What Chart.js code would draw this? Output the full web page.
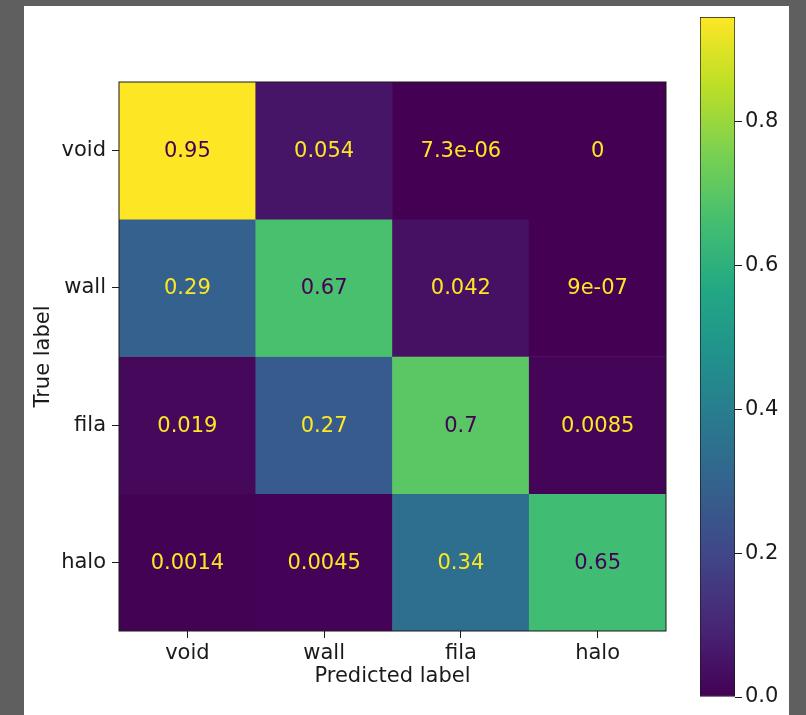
<!DOCTYPE html>
<html>
<head>
<meta charset="utf-8">
<script src="https://cdn.jsdelivr.net/npm/chart.js@4/dist/chart.umd.min.js"></script>
<style>
  html, body { margin: 0; padding: 0; }
  body { width: 806px; height: 715px; background: #5f5f5f; position: relative; overflow: hidden; }
  #panel { position: absolute; left: 24px; top: 6px; width: 765px; height: 709px; background: #fff; }
  canvas { position: absolute; left: 0; top: 0; }
  #barCanvas { pointer-events: none; }
</style>
</head>
<body>
<div id="panel"></div>
<canvas id="cmCanvas" width="806" height="715"></canvas>
<canvas id="barCanvas" width="806" height="715"></canvas>
<script>
// class names on both axes
const predictedLabels = ["void", "wall", "fila", "halo"];
const trueLabels = ["void", "wall", "fila", "halo"];

// normalized confusion matrix, one row per true class
const rowVoid = [0.946, 0.054, 7.3e-6, 0];
const rowWall = [0.29, 0.67, 0.042, 9e-7];
const rowFila = [0.019, 0.27, 0.7, 0.0085];
const rowHalo = [0.0014, 0.0045, 0.34, 0.65];
const matrix = [rowVoid, rowWall, rowFila, rowHalo];

// colorbar tick values
const colorbarTicks = [0.0, 0.2, 0.4, 0.6, 0.8];

const allValues = matrix.flat();
const vmin = Math.min(...allValues);
const vmax = Math.max(...allValues);

// viridis colormap stops
const viridis = [
  "#440154", "#482475", "#414487", "#355f8d", "#2a788e", "#21918c",
  "#22a884", "#44bf70", "#7ad151", "#bddf26", "#fde725",
];

const hexToRgb = (h) => [1, 3, 5].map((i) => parseInt(h.slice(i, i + 2), 16));

const viridisColor = (t) => {
  t = Math.min(1, Math.max(0, t));
  const pos = t * (viridis.length - 1);
  const i = Math.min(viridis.length - 2, Math.floor(pos));
  const f = pos - i;
  const a = hexToRgb(viridis[i]);
  const b = hexToRgb(viridis[i + 1]);
  const c = a.map((v, k) => Math.round(v + (b[k] - v) * f));
  return `rgb(${c[0]}, ${c[1]}, ${c[2]})`;
};

// same as python's "%.2g"
const formatValue = (v) => {
  if (v === 0) return "0";
  const exp = Math.floor(Math.log10(Math.abs(v)));
  if (exp < -4 || exp >= 2) {
    let [mant, e] = v.toExponential(1).split("e");
    mant = mant.replace(/\.?0+$/, "");
    const sign = e[0] === "-" ? "-" : "+";
    const digits = e.replace(/^[+-]/, "").padStart(2, "0");
    return `${mant}e${sign}${digits}`;
  }
  let s = v.toPrecision(2);
  if (s.includes(".")) s = s.replace(/\.?0+$/, "");
  return s;
};

const FONT = "'DejaVu Sans', sans-serif";
const SIZE = 21;
const TEXT = "#1a1a1a";
const threshold = (vmin + vmax) / 2;

// one floating-bar dataset per matrix row, each bar is one cell
const datasets = matrix.map((row, r) => ({
  label: trueLabels[r],
  data: row.map(() => [r - 0.5, r + 0.5]),
  values: row,
  backgroundColor: row.map((v) => viridisColor((v - vmin) / (vmax - vmin))),
  borderWidth: 0,
  barPercentage: 1,
  categoryPercentage: 1,
  grouped: false,
}));

// writes the value in the middle of each cell
const cellText = {
  id: "cellText",
  afterDatasetsDraw(chart) {
    const ctx = chart.ctx;
    ctx.save();
    ctx.font = `${SIZE}px ${FONT}`;
    ctx.textAlign = "center";
    ctx.textBaseline = "middle";
    chart.data.datasets.forEach((ds, i) => {
      chart.getDatasetMeta(i).data.forEach((bar, j) => {
        const v = ds.values[j];
        const { x, y, base } = bar.getProps(["x", "y", "base"], true);
        ctx.fillStyle = v >= threshold ? viridis[0] : viridis[viridis.length - 1];
        ctx.fillText(formatValue(v), x, (y + base) / 2 + 1);
      });
    });
    ctx.restore();
  },
};

// thin dark box round the plot area
const frame = {
  id: "frame",
  afterDraw(chart) {
    const { left, top, right, bottom } = chart.chartArea;
    const ctx = chart.ctx;
    ctx.save();
    ctx.strokeStyle = TEXT;
    ctx.lineWidth = 1;
    ctx.strokeRect(left, top, right - left, bottom - top);
    ctx.restore();
  },
};

new Chart(document.querySelector("#cmCanvas"), {
  type: "bar",
  data: { labels: predictedLabels, datasets },
  options: {
    responsive: false,
    animation: false,
    layout: { padding: { left: 0, top: 82, right: 140, bottom: 0 } },
    plugins: { legend: { display: false }, tooltip: { enabled: false } },
    scales: {
      x: {
        afterFit: (scale) => { scale.height = 84; },
        grid: { offset: false, drawOnChartArea: false, drawTicks: true, tickLength: 7, color: TEXT },
        border: { display: false },
        ticks: { color: TEXT, font: { family: FONT, size: SIZE }, padding: 3 },
        title: {
          display: true,
          text: "Predicted label",
          color: TEXT,
          font: { family: FONT, size: SIZE },
          padding: { top: 0, bottom: 26 },
        },
      },
      y: {
        type: "linear",
        reverse: true,
        min: -0.5,
        max: trueLabels.length - 0.5,
        afterFit: (scale) => { scale.width = 119; },
        afterBuildTicks: (scale) => {
          scale.ticks = trueLabels.map((_, i) => ({ value: i }));
        },
        grid: { drawOnChartArea: false, drawTicks: true, tickLength: 7, color: TEXT },
        border: { display: false },
        ticks: {
          color: TEXT,
          font: { family: FONT, size: SIZE },
          padding: 6,
          callback: (value) => trueLabels[value],
        },
        title: {
          display: true,
          text: "True label",
          color: TEXT,
          font: { family: FONT, size: SIZE },
          padding: { top: 31, bottom: 0 },
        },
      },
    },
  },
  plugins: [cellText, frame],
});

// colorbar: a single floating bar from vmin to vmax with a viridis gradient
new Chart(document.querySelector("#barCanvas"), {
  type: "bar",
  data: {
    labels: [""],
    datasets: [
      {
        data: [[vmin, vmax]],
        backgroundColor: (context) => {
          const chart = context.chart;
          const yScale = chart.scales.y;
          if (!chart.chartArea || !yScale) return viridis[0];
          const g = chart.ctx.createLinearGradient(
            0, yScale.getPixelForValue(vmin), 0, yScale.getPixelForValue(vmax)
          );
          viridis.forEach((c, i) => g.addColorStop(i / (viridis.length - 1), c));
          return g;
        },
        borderColor: TEXT,
        borderWidth: 1,
        borderSkipped: false,
        barPercentage: 1,
        categoryPercentage: 1,
      },
    ],
  },
  options: {
    responsive: false,
    animation: false,
    layout: { padding: { left: 700, top: 17, right: 0, bottom: 18 } },
    plugins: { legend: { display: false }, tooltip: { enabled: false } },
    scales: {
      x: { display: false },
      y: {
        position: "right",
        min: vmin,
        max: vmax,
        afterFit: (scale) => { scale.width = 71; },
        afterBuildTicks: (scale) => {
          scale.ticks = colorbarTicks.map((v) => ({ value: v }));
        },
        grid: { drawOnChartArea: false, drawTicks: true, tickLength: 7, color: TEXT },
        border: { display: false },
        ticks: {
          color: TEXT,
          font: { family: FONT, size: SIZE },
          padding: 3,
          callback: (value) => value.toFixed(1),
        },
      },
    },
  },
});
</script>
</body>
</html>
